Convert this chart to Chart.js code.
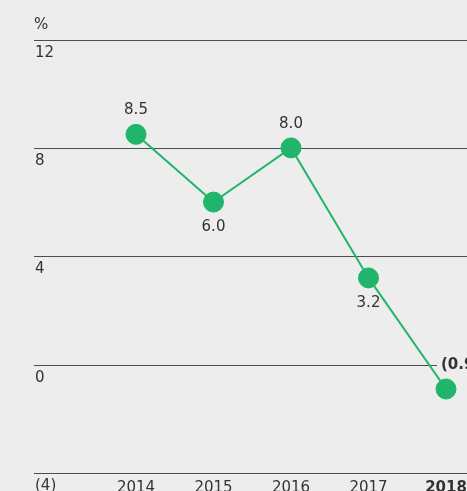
<!DOCTYPE html>
<html>
<head>
<meta charset="utf-8">
<script src="https://cdn.jsdelivr.net/npm/chart.js@4/dist/chart.umd.min.js"></script>
<style>
  html, body { margin: 0; padding: 0; overflow: hidden; background: #ecedec; }
  #wrap { width: 467px; height: 491px; overflow: hidden; }
  canvas { display: block; }
</style>
</head>
<body>
<div id="wrap"><canvas id="c" width="530" height="503"></canvas></div>
<script>
// Annual change, %
const years = ['2014', '2015', '2016', '2017', '2018'];
const values = [8.5, 6.0, 8.0, 3.2, -0.9];
const valueLabels = ['8.5', '6.0', '8.0', '3.2', '(0.9)'];
const labelBelow = [false, true, false, true, false];
const yTickValues = [12, 8, 4, 0, -4];
const yTickLabels = ['12', '8', '4', '0', '(4)'];
const unitLabel = '%';

const BG = '#ecedec';
const GREEN = '#21b46b';
const TEXT = '#333333';
const GRID = '#4d4d4d';
const FONT = '"DejaVu Sans", Verdana, sans-serif';
const highlightIndex = years.length - 1;

// Horizontal rules with their labels tucked under the left end
const rulesPlugin = {
  id: 'rules',
  beforeDatasetsDraw(chart) {
    const { ctx } = chart;
    const y = chart.scales.y;
    ctx.save();
    ctx.strokeStyle = GRID;
    ctx.lineWidth = 1;
    ctx.fillStyle = TEXT;
    ctx.font = '15px ' + FONT;
    ctx.textAlign = 'left';
    ctx.textBaseline = 'middle';
    yTickValues.forEach((v, i) => {
      const py = Math.round(y.getPixelForValue(v)) + 0.5;
      ctx.beginPath();
      ctx.moveTo(34, py);
      ctx.lineTo(chart.width, py);
      ctx.stroke();
      ctx.fillText(yTickLabels[i], 35, py + 13);
    });
    ctx.fillText(unitLabel, 34, 25);
    ctx.restore();
  }
};

// Value labels next to each point
const valueLabelPlugin = {
  id: 'valueLabels',
  afterDatasetsDraw(chart) {
    const { ctx } = chart;
    const meta = chart.getDatasetMeta(0);
    ctx.save();
    ctx.textBaseline = 'middle';
    meta.data.forEach((pt, i) => {
      const txt = valueLabels[i];
      if (i === highlightIndex) {
        ctx.font = 'bold 15px ' + FONT;
        const w = ctx.measureText(txt).width;
        const lx = pt.x - 5;
        const ly = pt.y - 24;
        ctx.fillStyle = BG;
        ctx.fillRect(lx - 4, ly - 9, w + 8, 18);
        ctx.fillStyle = TEXT;
        ctx.textAlign = 'left';
        ctx.fillText(txt, lx, ly);
      } else {
        ctx.font = '15px ' + FONT;
        ctx.fillStyle = TEXT;
        ctx.textAlign = 'center';
        ctx.fillText(txt, pt.x, labelBelow[i] ? pt.y + 25 : pt.y - 24);
      }
    });
    ctx.restore();
  }
};

new Chart(document.getElementById('c'), {
  type: 'line',
  data: {
    labels: years,
    datasets: [{
      data: values,
      borderColor: GREEN,
      backgroundColor: GREEN,
      borderWidth: 2,
      pointRadius: 10,
      pointBorderWidth: 1,
      pointBackgroundColor: GREEN,
      pointBorderColor: GREEN,
      tension: 0,
      clip: false
    }]
  },
  options: {
    responsive: false,
    animation: false,
    events: [],
    layout: { padding: { left: 136, right: 84, top: 39.5, bottom: 0 } },
    plugins: { legend: { display: false }, tooltip: { enabled: false } },
    scales: {
      x: {
        type: 'category',
        offset: false,
        grid: { display: false, drawTicks: false },
        border: { display: false },
        ticks: {
          padding: 6,
          color: TEXT,
          maxRotation: 0,
          autoSkip: false,
          font: (c) => ({ family: FONT, size: 15, lineHeight: 1.2, weight: c.index === highlightIndex ? 'bold' : 'normal' })
        }
      },
      y: {
        display: false,
        min: -4,
        max: 12
      }
    }
  },
  plugins: [rulesPlugin, valueLabelPlugin]
});
</script>
</body>
</html>
